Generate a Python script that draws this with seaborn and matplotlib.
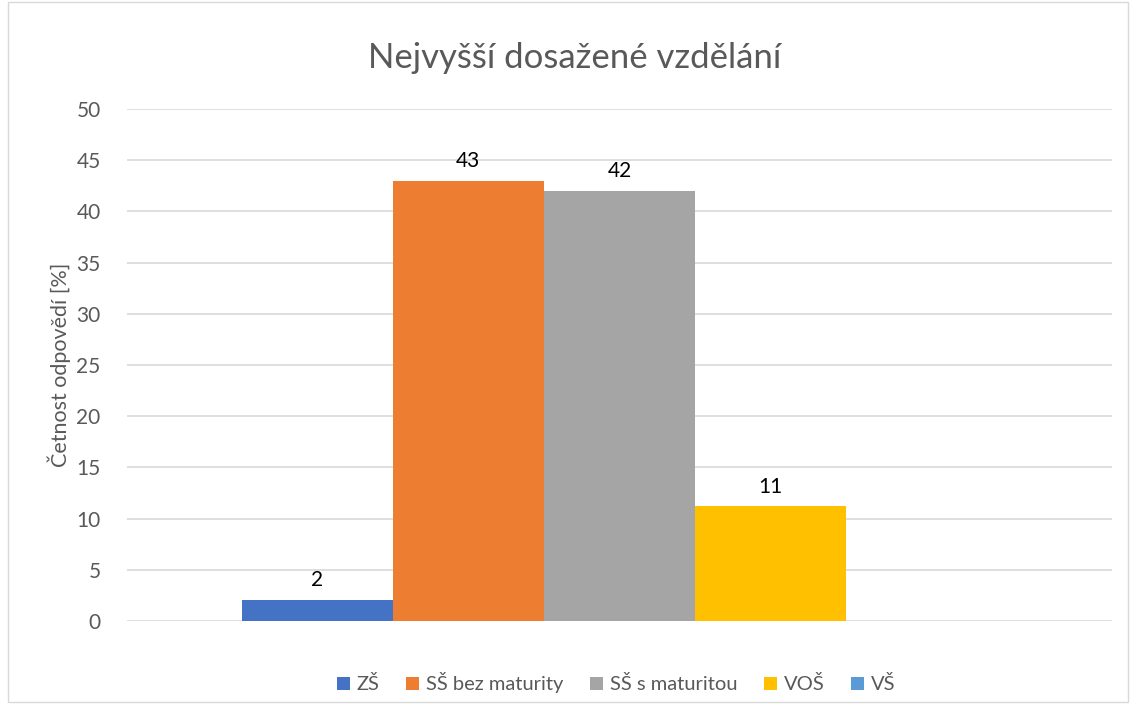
import pandas as pd
import matplotlib.pyplot as plt
import seaborn as sns
from matplotlib.patches import Rectangle

# data
series = ['ZŠ', 'SŠ bez maturity', 'SŠ s maturitou', 'VOŠ', 'VŠ']
values = [2.05, 42.97, 42.0, 11.2, 0.0]
colors = ['#4472C4', '#ED7D31', '#A5A5A5', '#FFC000', '#5B9BD5']

df = pd.DataFrame({'skupina': [''] * len(series), 'serie': series, 'hodnota': values})

sns.set_style('white')
plt.rcParams['font.family'] = ['Lato', 'DejaVu Sans']

fig = plt.figure(figsize=(11.3, 7.06), dpi=100)
ax = fig.add_axes([127 / 1130, 85 / 706, 985 / 1130, 512 / 706])

sns.barplot(data=df, x='skupina', y='hodnota', hue='serie', palette=colors,
            width=0.7675, gap=0, dodge=True, ax=ax, legend=True, saturation=1,
            linewidth=0, edgecolor='none')

ax.set_xlim(-0.5, 0.5)
ax.set_ylim(0, 50)
ax.set_yticks(range(0, 51, 5))
ax.yaxis.grid(True, color='#D9D9D9', linewidth=1.2)
ax.set_axisbelow(True)
for s in ax.spines.values():
    s.set_visible(False)
ax.tick_params(axis='y', length=0, pad=19, labelsize=15, labelcolor='#595959')
ax.tick_params(axis='x', length=0)
ax.set_xticklabels([])
ax.set_xlabel('')
ax.set_ylabel('Četnost odpovědí [%]', fontsize=15.5, color='#595959', labelpad=4)

# popisky hodnot
for cont in ax.containers:
    labels = [f'{round(b.get_height()):d}' if b.get_height() > 0 else '' for b in cont]
    ax.bar_label(cont, labels=labels, padding=7, fontsize=15, color='black')

fig.text(575 / 1130, 648 / 706, 'Nejvyšší dosažené vzdělání', fontsize=25, color='#595959',
         ha='center', va='center')

leg = ax.legend(loc='upper center', bbox_to_anchor=(0.4965, -0.065), ncol=5, frameon=False,
                fontsize=14.5, handlelength=0.65, handleheight=0.65, handletextpad=0.35,
                columnspacing=1.3)
for t in leg.get_texts():
    t.set_color('#595959')

# okraj grafu
fig.patches.append(Rectangle((8 / 1130, 4 / 706), 1120 / 1130, 700 / 706, transform=fig.transFigure,
                             fill=False, edgecolor='#D9D9D9', linewidth=1))

fig.savefig('out.png', dpi=100)
